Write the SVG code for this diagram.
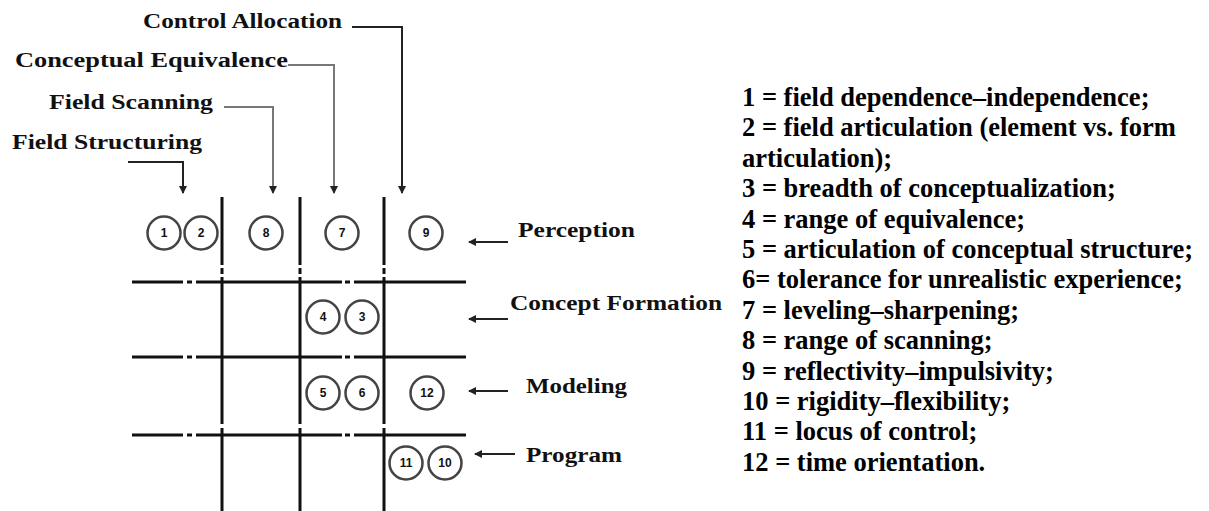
<svg xmlns="http://www.w3.org/2000/svg" width="1209" height="511" viewBox="0 0 1209 511">
<style>
.lbl{font-family:"Liberation Serif","Times New Roman",serif;font-size:20px;font-weight:bold;fill:#111}
.leg{font-family:"Liberation Serif","Times New Roman",serif;font-size:26.5px;font-weight:bold;fill:#000}
.num{font-family:"Liberation Sans",Arial,sans-serif;font-size:12px;font-weight:bold;fill:#111;text-anchor:middle}
.grid{stroke:#111;stroke-width:3;fill:none}
.circ{fill:#fff;stroke:#444;stroke-width:2.5}
.cd{stroke:#222;stroke-width:2;fill:none}
.cg{stroke:#777;stroke-width:2;fill:none}
</style>
<defs>
<marker id="ad" markerUnits="userSpaceOnUse" markerWidth="10" markerHeight="10" refX="5" refY="8" orient="0" viewBox="0 0 10 10">
<path d="M1,1 L9,1 L5,9 Z" fill="#222"/>
</marker>
<marker id="al" markerUnits="userSpaceOnUse" markerWidth="10" markerHeight="10" refX="2" refY="5" orient="0" viewBox="0 0 10 10">
<path d="M9,1 L9,9 L1,5 Z" fill="#222"/>
</marker>
</defs>
<rect width="1209" height="511" fill="#fff"/>

<g id="grid">
<path class="grid" d="M222,197 V265 M222,268 V274 M222,277 V424 M222,428 V511 M300,197 V265 M300,268 V274 M300,277 V424 M300,428 V511 M384,197 V265 M384,268 V274 M384,277 V424 M384,428 V511"/>
<path class="grid" d="M132,282 H183 M187,282 H192 M196,282 H342 M345,282 H350 M354,282 H466 M132,357 H183 M187,357 H192 M196,357 H342 M345,357 H350 M354,357 H466 M132,435 H183 M187,435 H192 M196,435 H342 M345,435 H350 M354,435 H466"/>
</g>

<g id="labels-top">
<text class="lbl" x="143" y="28" textLength="199" lengthAdjust="spacingAndGlyphs">Control Allocation</text>
<text class="lbl" x="15" y="67" textLength="273" lengthAdjust="spacingAndGlyphs">Conceptual Equivalence</text>
<text class="lbl" x="49" y="109" textLength="164" lengthAdjust="spacingAndGlyphs">Field Scanning</text>
<text class="lbl" x="12" y="149" textLength="190" lengthAdjust="spacingAndGlyphs">Field Structuring</text>
</g>

<g id="labels-right">
<text class="lbl" x="518" y="237" textLength="117" lengthAdjust="spacingAndGlyphs">Perception</text>
<text class="lbl" x="510" y="310" textLength="212" lengthAdjust="spacingAndGlyphs">Concept Formation</text>
<text class="lbl" x="526" y="393" textLength="101" lengthAdjust="spacingAndGlyphs">Modeling</text>
<text class="lbl" x="526" y="462" textLength="96" lengthAdjust="spacingAndGlyphs">Program</text>
</g>

<g id="connectors">
<path class="cd" d="M352,27 H402 V193" marker-end="url(#ad)"/>
<path class="cg" stroke-width="1.6" d="M288,65 H334 V193" marker-end="url(#ad)"/>
<path class="cg" stroke="#888" stroke-width="3" d="M224,107 H273 V193" marker-end="url(#ad)"/>
<path class="cd" stroke="#555" d="M128,162 H183 V193" marker-end="url(#ad)"/>
<path class="cd" stroke="#333" stroke-width="2.5" d="M508,242 H469" marker-end="url(#al)"/>
<path class="cd" stroke="#333" stroke-width="2.5" d="M508,319 H469" marker-end="url(#al)"/>
<path class="cd" stroke="#bbb" stroke-width="4" d="M508,391 H469" marker-end="url(#al)"/>
<path class="cd" stroke="#888" stroke-width="4" d="M515,454 H475" marker-end="url(#al)"/>
</g>

<g id="n1"><circle class="circ" cx="164" cy="233" r="16.5"/><text class="num" x="164" y="237">1</text></g>
<g id="n2"><circle class="circ" cx="201" cy="233" r="16.5"/><text class="num" x="201" y="237">2</text></g>
<g id="n8"><circle class="circ" cx="266" cy="233" r="16.5"/><text class="num" x="266" y="237">8</text></g>
<g id="n7"><circle class="circ" cx="342" cy="233" r="16.5"/><text class="num" x="342" y="237">7</text></g>
<g id="n9"><circle class="circ" cx="426" cy="233" r="16.5"/><text class="num" x="426" y="237">9</text></g>
<g id="n4"><circle class="circ" cx="323" cy="317" r="16.5"/><text class="num" x="323" y="321">4</text></g>
<g id="n3"><circle class="circ" cx="362" cy="317" r="16.5"/><text class="num" x="362" y="321">3</text></g>
<g id="n5"><circle class="circ" cx="323" cy="393" r="16.5"/><text class="num" x="323" y="397">5</text></g>
<g id="n6"><circle class="circ" cx="362" cy="393" r="16.5"/><text class="num" x="362" y="397">6</text></g>
<g id="n12"><circle class="circ" cx="427" cy="393" r="16.5"/><text class="num" x="427" y="397">12</text></g>
<g id="n11"><circle class="circ" cx="406" cy="463" r="16.5"/><text class="num" x="406" y="467">11</text></g>
<g id="n10"><circle class="circ" cx="445" cy="463" r="16.5"/><text class="num" x="445" y="467">10</text></g>

<g id="legend">
<text class="leg" x="742" y="106">
<tspan x="742" dy="0">1 = field dependence–independence;</tspan>
<tspan x="742" dy="30.4">2 = field articulation (element vs. form</tspan>
<tspan x="742" dy="30.4">articulation);</tspan>
<tspan x="742" dy="30.4">3 = breadth of conceptualization;</tspan>
<tspan x="742" dy="30.4">4 = range of equivalence;</tspan>
<tspan x="742" dy="30.4">5 = articulation of conceptual structure;</tspan>
<tspan x="742" dy="30.4">6= tolerance for unrealistic experience;</tspan>
<tspan x="742" dy="30.4">7 = leveling–sharpening;</tspan>
<tspan x="742" dy="30.4">8 = range of scanning;</tspan>
<tspan x="742" dy="30.4">9 = reflectivity–impulsivity;</tspan>
<tspan x="742" dy="30.4">10 = rigidity–flexibility;</tspan>
<tspan x="742" dy="30.4">11 = locus of control;</tspan>
<tspan x="742" dy="30.4">12 = time orientation.</tspan>
</text>
</g>
</svg>
